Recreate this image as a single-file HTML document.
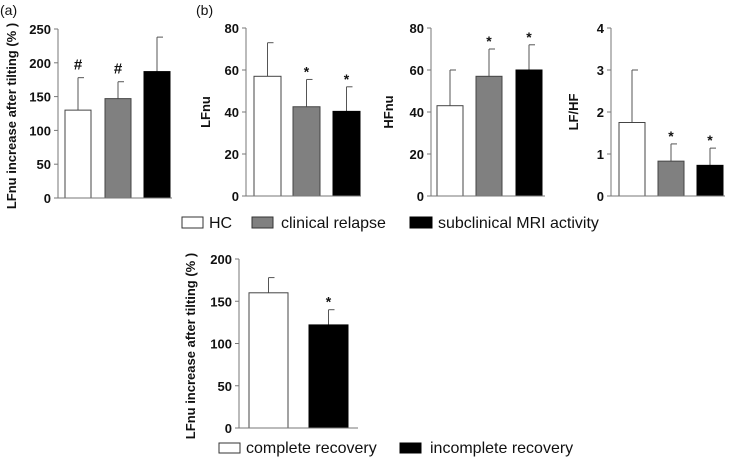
<!DOCTYPE html>
<html><head><meta charset="utf-8"><style>
html,body{margin:0;padding:0;background:#fff}
svg{display:block}
text{font-family:"Liberation Sans",Arial,sans-serif;fill:#111}
.tick{font-size:13px;font-weight:bold}
.title{font-size:13px;font-weight:bold}
.leg{font-size:16px}
</style></head><body>
<svg id="fig" width="733" height="461" viewBox="0 0 733 461" xmlns="http://www.w3.org/2000/svg">
<text x="0" y="15" font-size="14">(a)</text>
<text x="196" y="15" font-size="14">(b)</text>
<g>
<rect x="182" y="217" width="21" height="11" fill="#fff" stroke="#333"/>
<text x="209" y="228" class="leg">HC</text>
<rect x="252" y="217" width="21" height="11" fill="#808080" stroke="#333"/>
<text x="281" y="228" class="leg">clinical relapse</text>
<rect x="410" y="217" width="22" height="11" fill="#000" stroke="#000"/>
<text x="438" y="228" class="leg">subclinical MRI  activity</text>
</g>
<g>
<rect x="219" y="443" width="21" height="10" fill="#fff" stroke="#333"/>
<text x="246" y="453" class="leg">complete recovery</text>
<rect x="400" y="443" width="21" height="10" fill="#000" stroke="#000"/>
<text x="430" y="453" class="leg">incomplete recovery</text>
</g>
</svg>
<script>
const aValues=[130,147,187];
const aErrors=[178,172,238];
const aMarks=["#","#",""];
const aTicks=[0,50,100,150,200,250];
const lfValues=[57,42.5,40.3];
const lfErrors=[73,55.5,52];
const lfMarks=["","*","*"];
const hfValues=[43,57,60];
const hfErrors=[60,70,72];
const hfMarks=["","*","*"];
const ratioValues=[1.75,0.83,0.73];
const ratioErrors=[3.0,1.24,1.14];
const ratioMarks=["","*","*"];
const ticks80=[0,20,40,60,80];
const ratioTicks=[0,1,2,3,4];
const recValues=[160,122];
const recErrors=[178,140];
const recMarks=["","*"];
const recTicks=[0,50,100,150,200];
const fills3=["#fff","#808080","#000"];
const fills2=["#fff","#000"];
const NS="http://www.w3.org/2000/svg";
const svg=document.getElementById('fig');
function mk(tag,attrs,parent){const e=document.createElementNS(NS,tag);for(const k in attrs)e.setAttribute(k,attrs[k]);parent.appendChild(e);return e;}
function panel(cfg){
 const g=mk('g',{},svg);
 
 
 const max=cfg.ticks[cfg.ticks.length-1];
 const y=v=>cfg.y0-(cfg.y0-cfg.yTop)*v/max;
 cfg.values.forEach((v,i)=>{
  const x0=cfg.bx[i],w=cfg.bw,cx=x0+w/2;
  const eb=mk('line',{x1:cx,x2:cx,y1:y(v),y2:y(cfg.errors[i]),stroke:'#555','stroke-width':1},g);
  
  
  const cap=mk('line',{x1:cx,x2:cx+6,y1:y(cfg.errors[i]),y2:y(cfg.errors[i]),stroke:'#555','stroke-width':1},g);
  
  
  const r=mk('rect',{x:x0,y:y(v),width:w,height:cfg.y0-y(v),fill:cfg.fills[i],stroke:cfg.fills[i]==='#000'?'#000':'#444','stroke-width':1},g);
  
  
  if(cfg.marks[i]){const t=mk('text',{x:cx,y:y(cfg.errors[i])-(cfg.marks[i]==='#'?8:3),'text-anchor':'middle','font-size':cfg.marks[i]==='#'?15:14,'font-weight':'bold'},g);t.textContent=cfg.marks[i];
   
   }
 });
 const ax=mk('line',{x1:cfg.ax,x2:cfg.ax,y1:cfg.yTop,y2:cfg.y0,stroke:'#777'},g);
 
 
 const xa=mk('line',{x1:cfg.ax,x2:cfg.xEnd,y1:cfg.y0,y2:cfg.y0,stroke:'#777'},g);
 
 
 cfg.ticks.forEach(tv=>{
  const tl=mk('line',{x1:cfg.ax-4,x2:cfg.ax,y1:y(tv),y2:y(tv),stroke:'#777'},g);
  
  
  const t=mk('text',{x:cfg.ax-7,y:y(tv)+5,'text-anchor':'end',class:'tick'},g);t.textContent=tv;
  
  
 });
 const tt=mk('text',{x:cfg.tx,y:cfg.ty,'text-anchor':'middle',class:'title',transform:`rotate(-90 ${cfg.tx} ${cfg.ty})`},g);tt.textContent=cfg.title;
 
 
}
panel({name:'panel-a-chart',values:aValues,errors:aErrors,marks:aMarks,ticks:aTicks,fills:fills3,ax:58,xEnd:172,y0:198,yTop:29,bx:[65,105,144],bw:26,title:'LFnu increase after tilting (% )',tx:16,ty:116});
panel({name:'lfnu-chart',values:lfValues,errors:lfErrors,marks:lfMarks,ticks:ticks80,fills:fills3,ax:246,xEnd:361,y0:196,yTop:28,bx:[254,293,333],bw:27,title:'LFnu',tx:210,ty:112});
panel({name:'hfnu-chart',values:hfValues,errors:hfErrors,marks:hfMarks,ticks:ticks80,fills:fills3,ax:431,xEnd:545,y0:196,yTop:28,bx:[437,476,516],bw:26,title:'HFnu',tx:393,ty:112});
panel({name:'lf-hf-chart',values:ratioValues,errors:ratioErrors,marks:ratioMarks,ticks:ratioTicks,fills:fills3,ax:611,xEnd:725,y0:196,yTop:28,bx:[619,658,697],bw:26,title:'LF/HF',tx:578,ty:112});
panel({name:'recovery-chart',values:recValues,errors:recErrors,marks:recMarks,ticks:recTicks,fills:fills2,ax:239,xEnd:358,y0:428,yTop:259,bx:[249,309],bw:39,title:'LFnu increase after tilting (% )',tx:195,ty:346});
</script>
</body></html>
